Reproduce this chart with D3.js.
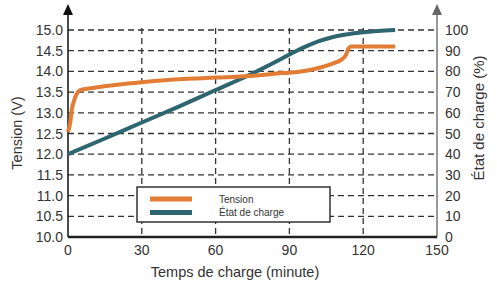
<!DOCTYPE html>
<html>
<head>
<meta charset="utf-8">
<script src="https://cdn.jsdelivr.net/npm/d3@7"></script>
<style>
  body { margin: 0; background: #fff; }
  text { font-family: "Liberation Sans", Arial, sans-serif; fill: #333; }
</style>
</head>
<body>
<div id="chart"></div>
<script>
// tension (V) vs time (minutes)
let tensionTime = [0, 1, 1.5, 2.5, 3.5, 4.9, 10, 20, 30, 45, 60, 74, 87, 94, 103, 108, 111.5, 113, 114, 115, 133];
let tensionVals = [12.54, 12.8, 13.06, 13.3, 13.45, 13.55, 13.6, 13.68, 13.74, 13.81, 13.85, 13.89, 13.96, 13.99, 14.1, 14.2, 14.3, 14.4, 14.55, 14.6, 14.6];

// state of charge (%) vs time
let socTime = [0, 15, 30, 45, 60, 75, 87, 92, 97, 102, 107, 113, 120, 126, 133];
let socVals = [40, 47.6, 55.3, 63, 71, 79, 86.2, 89.4, 92.2, 94.6, 96.4, 97.8, 98.9, 99.5, 100];

let xTicks = [0, 30, 60, 90, 120, 150];
let leftTicks = [10.0, 10.5, 11.0, 11.5, 12.0, 12.5, 13.0, 13.5, 14.0, 14.5, 15.0];
let rightTicks = [0, 10, 20, 30, 40, 50, 60, 70, 80, 90, 100];
let legendNames = ["Tension", "État de charge"];

let width = 497, height = 286;
let orange = "#E27D36", teal = "#2E6670";

let svg = d3.select("#chart").append("svg")
    .attr("width", width)
    .attr("height", height);

let x = d3.scaleLinear().domain([0, 150]).range([68, 437]);
let yV = d3.scaleLinear().domain([10, 15]).range([237, 30]);
let yP = d3.scaleLinear().domain([0, 100]).range([237, 30]);

// grid
svg.selectAll(".hgrid")
    .data(leftTicks.filter(d => d > 10))
    .join("line")
    .attr("x1", x(0)).attr("x2", x(150))
    .attr("y1", d => yV(d)).attr("y2", d => yV(d))
    .attr("stroke", "#333").attr("stroke-width", 1.3)
    .attr("stroke-dasharray", "6,4");

svg.selectAll(".vgrid")
    .data(xTicks.filter(d => d > 0 && d < 150))
    .join("line")
    .attr("x1", d => x(d)).attr("x2", d => x(d))
    .attr("y1", yV(15) - 2).attr("y2", yV(10))
    .attr("stroke", "#333").attr("stroke-width", 1.3)
    .attr("stroke-dasharray", "6,4");

// axes lines
svg.append("line")
    .attr("x1", x(0)).attr("x2", x(0))
    .attr("y1", 12).attr("y2", yV(10))
    .attr("stroke", "#111").attr("stroke-width", 1.5);
svg.append("path")
    .attr("d", `M${x(0)},4 L${x(0) - 5},15 L${x(0) + 5},15 Z`)
    .attr("fill", "#111");

svg.append("line")
    .attr("x1", x(150)).attr("x2", x(150))
    .attr("y1", 12).attr("y2", yV(10))
    .attr("stroke", "#777").attr("stroke-width", 1.5);
svg.append("path")
    .attr("d", `M${x(150)},4 L${x(150) - 5},15 L${x(150) + 5},15 Z`)
    .attr("fill", "#666");

svg.append("line")
    .attr("x1", x(0)).attr("x2", x(150))
    .attr("y1", yV(10)).attr("y2", yV(10))
    .attr("stroke", "#222").attr("stroke-width", 2.5);

// tick labels
svg.selectAll(".ltick")
    .data(leftTicks)
    .join("text")
    .attr("x", 63)
    .attr("y", d => yV(d) + 5)
    .attr("text-anchor", "end")
    .attr("font-size", 14)
    .text(d => d.toFixed(1));

svg.selectAll(".rtick")
    .data(rightTicks)
    .join("text")
    .attr("x", 445)
    .attr("y", d => yP(d) + 5)
    .attr("font-size", 14)
    .text(d => d);

svg.selectAll(".xtick")
    .data(xTicks)
    .join("text")
    .attr("x", d => x(d))
    .attr("y", 255)
    .attr("text-anchor", "middle")
    .attr("font-size", 14)
    .text(d => d);

// titles
svg.append("text")
    .attr("x", 235).attr("y", 277)
    .attr("text-anchor", "middle")
    .attr("font-size", 14.5)
    .text("Temps de charge (minute)");

svg.append("text")
    .attr("transform", "translate(22,133) rotate(-90)")
    .attr("text-anchor", "middle")
    .attr("font-size", 14.5)
    .text("Tension (V)");

svg.append("text")
    .attr("transform", "translate(484,118) rotate(-90)")
    .attr("text-anchor", "middle")
    .attr("font-size", 15)
    .text("État de charge (%)");

// data lines
let tensionData = tensionTime.map((t, i) => ({t: t, v: tensionVals[i]}));
let socData = socTime.map((t, i) => ({t: t, v: socVals[i]}));

svg.append("path")
    .datum(socData)
    .attr("d", d3.line().x(d => x(d.t)).y(d => yP(d.v)).curve(d3.curveMonotoneX))
    .attr("fill", "none")
    .attr("stroke", teal)
    .attr("stroke-width", 4);

svg.append("path")
    .datum(tensionData)
    .attr("d", d3.line().x(d => x(d.t)).y(d => yV(d.v)).curve(d3.curveMonotoneX))
    .attr("fill", "none")
    .attr("stroke", orange)
    .attr("stroke-width", 4);

// legend
let legend = svg.append("g");
legend.append("rect")
    .attr("x", 137).attr("y", 187)
    .attr("width", 193).attr("height", 35)
    .attr("fill", "#fff")
    .attr("stroke", "#333").attr("stroke-width", 1.5);

legend.selectAll(".lline")
    .data(legendNames)
    .join("line")
    .attr("x1", 150).attr("x2", 192)
    .attr("y1", (d, i) => 199 + i * 13.5)
    .attr("y2", (d, i) => 199 + i * 13.5)
    .attr("stroke", (d, i) => i === 0 ? orange : teal)
    .attr("stroke-width", 5);

legend.selectAll(".ltext")
    .data(legendNames)
    .join("text")
    .attr("x", 219)
    .attr("y", (d, i) => 202.5 + i * 13.5)
    .attr("font-size", 10)
    .text(d => d);
</script>
</body>
</html>
